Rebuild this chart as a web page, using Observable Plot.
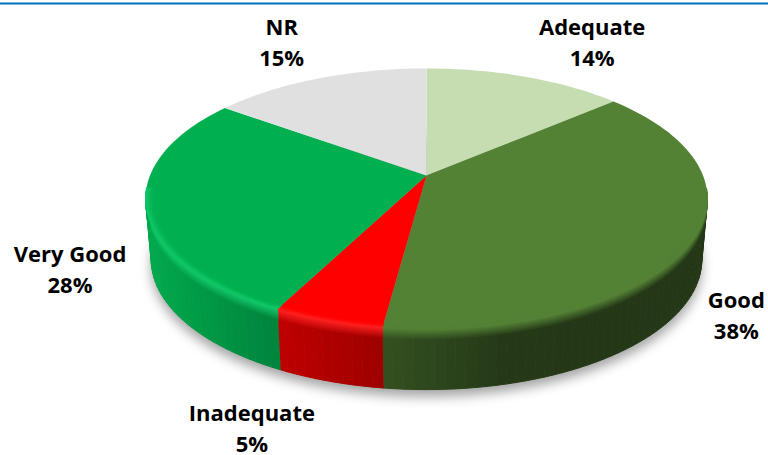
<!DOCTYPE html>
<html><head><meta charset="utf-8">
<script src="https://cdn.jsdelivr.net/npm/d3@7"></script>
<script src="https://cdn.jsdelivr.net/npm/@observablehq/plot@0.6"></script>
<style>html,body{margin:0;padding:0;background:#fff}svg{display:block}</style>
</head><body><div id="chart"></div>
<script>
const categories = ["Adequate","Good","Inadequate","Very Good","NR"];
const percents = [13.6,38.49,5.4,27.6,14.91];
const topColors = ["#C5DDB0","#548235","#FF0000","#00B050","#E0E0E0"];
const rimColors = ["#C5DDB0","#548235","#FF2020","#12C96A","#E0E0E0"];
const labelOffsets = [[67,-33],[44,76],[-76,109],[-76,65],[-37,-35]];
const shadeStops = [[146,.96],[270,.76],[380,.62],[500,.44],[710,.42]];

// pie geometry (perspective circle) mapped onto the page pixels
const cx=426, cy=175, ey=198, R=276.5, K=126, P=-0.177, depth=61, shrink=.98;
function rim(pct){
  const t=pct/100*2*Math.PI, u=Math.sin(t), v=-Math.cos(t), w=1+P*v;
  return [cx+R*u/w, cy+K*v/w];
}
const low=([x,y],f=1)=>[cx+(x-cx)*(1-(1-shrink)*f),y+depth*f];
const inner=([x,y],f)=>[cx+(x-cx)*f,ey+(y-ey)*f];
const step=.5;
function range(a,b){const r=[];for(let p=a;p<b;p+=step)r.push(p);r.push(b);return r;}
const starts=d3.cumsum([0,...percents]);
const shadeX=d3.scaleLinear(shadeStops.map(d=>d[0]),shadeStops.map(d=>d[1])).clamp(true);
const pt=(a,extra={})=>({x:a[0],y:a[1],...extra});
const bandFracs=[0,.03,.06,.09,.12,.15,.18,1];   // side wall: bevel fades in the top of the wall
const innerFracs=[1,.993,.986,.979,.972];         // top face: bevel fades inward

const tops=[],strips=[],bevels=[],silhouette=[],labels=[];
categories.forEach((name,i)=>{
  const a=starts[i],b=starts[i+1];
  tops.push(pt([cx,cy],{name,color:topColors[i]}));
  const ps=range(a,b);
  ps.forEach(p=>tops.push(pt(rim(p),{name,color:topColors[i]})));
  ps.slice(0,-1).forEach((p,j)=>{
    const r0=rim(p),r1=rim(ps[j+1]);
    if(r0[1]<ey-8&&r1[1]<ey-8) return;
    const side=d3.interpolateRgb("#000",topColors[i])(shadeX((r0[0]+r1[0])/2));
    bandFracs.slice(0,-1).forEach((f,k)=>{
      const g=bandFracs[k+1];
      const color=d3.interpolateRgb(rimColors[i],side)(Math.min(1,k/(bandFracs.length-2)));
      const id=name+j+"s"+k;
      [low(r0,f),low(r1,f),low(r1,g),low(r0,g)].forEach(q=>strips.push(pt(q,{id,color})));
    });
    innerFracs.slice(0,-1).forEach((f,k)=>{
      const g=innerFracs[k+1];
      const color=d3.interpolateRgb(rimColors[i],topColors[i])((k+.5)/(innerFracs.length-1));
      const id=name+j+"b"+k;
      [inner(r0,f),inner(r1,f),inner(r1,g),inner(r0,g)].forEach(q=>bevels.push(pt(q,{id,color})));
    });
  });
  const m=rim((a+b)/2);
  labels.push({name,pct:Math.round(percents[i])+"%",x:m[0]+labelOffsets[i][0],y:m[1]+labelOffsets[i][1]});
});
range(0,100).forEach(p=>silhouette.push(pt(low(rim(p)))));

const chart=Plot.plot({
  width:768,height:455,margin:0,
  x:{domain:[0,768],range:[0,768],axis:null},
  y:{domain:[0,455],range:[0,455],axis:null},
  color:{type:"identity"},
  marks:[
    Plot.line(silhouette,{x:"x",y:d=>d.y+7,fill:"#000",fillOpacity:.36,stroke:"none",imageFilter:"blur(6px)"}),
    Plot.line(strips,{x:"x",y:"y",z:"id",fill:"color",stroke:"color",strokeWidth:1}),
    Plot.line(tops,{x:"x",y:"y",z:"name",fill:"color",stroke:"none"}),
    Plot.line(bevels,{x:"x",y:"y",z:"id",fill:"color",stroke:"color",strokeWidth:.6}),
    Plot.ruleY([3],{stroke:"#0070C0",strokeWidth:2}),
    Plot.text(labels,{x:"x",y:d=>d.y-15.5,text:"name",fontFamily:"Open Sans",fontWeight:700,fontSize:22,fill:"#000"}),
    Plot.text(labels,{x:"x",y:d=>d.y+15.5,text:"pct",fontFamily:"Open Sans",fontWeight:700,fontSize:22,fill:"#000"})
  ]
});
document.getElementById("chart").append(chart);
</script></body></html>
